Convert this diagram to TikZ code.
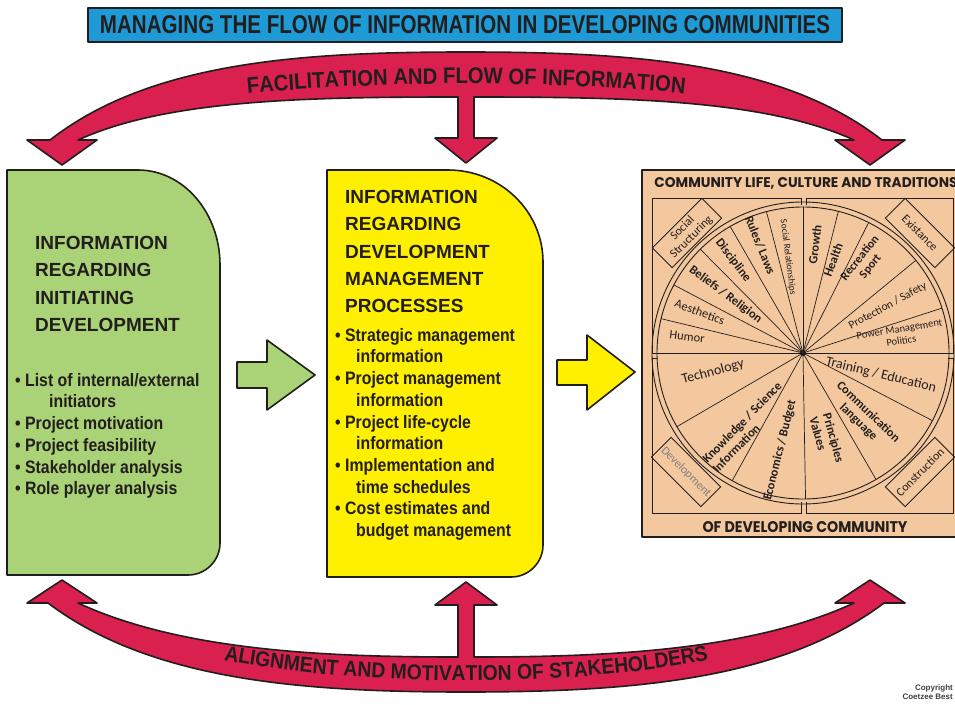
\documentclass[tikz,border=0pt]{standalone}
\usepackage{fontspec}
\setmainfont{Liberation Sans}
\newfontfamily\condfont{Liberation Sans}[FakeStretch=0.88]
\newfontfamily\bandfont{Liberation Sans}[FakeStretch=0.9]
\newfontfamily\wheelfont{Carlito}
\newfontfamily\geofont{Poppins}
\usetikzlibrary{decorations.text}

\definecolor{titleblue}{RGB}{30,155,215}
\definecolor{bandred}{RGB}{218,32,78}
\definecolor{initgreen}{RGB}{170,210,118}
\definecolor{procyellow}{RGB}{255,240,0}
\definecolor{commpeach}{RGB}{244,200,158}
\definecolor{inkdark}{RGB}{35,30,30}

\tikzset{
  outline/.style={draw=inkdark, line width=1.6pt, line join=round},
  headtext/.style={anchor=north west, inner sep=0pt, align=left, text=inkdark,
    font=\fontsize{19}{27.3}\selectfont\bfseries},
  bullettext/.style={anchor=north west, inner sep=0pt, align=left, text=inkdark,
    font=\fontsize{18}{21.7}\selectfont\condfont\bfseries},
  cornerbox/.style={draw=inkdark, line width=0.9pt, minimum width=70pt, minimum height=28pt,
    inner sep=1pt, align=center, text=inkdark, font=\fontsize{12}{12.5}\selectfont\wheelfont},
  sector/.style={inner sep=0pt, align=center, text=inkdark, font=\fontsize{12.5}{14}\selectfont\wheelfont},
  sectorbold/.style={sector, font=\fontsize{12.5}{14}\selectfont\wheelfont\bfseries},
  spoke/.style={draw=inkdark, line width=0.7pt},
  bandtext/.style={decorate, decoration={text along path, text align=center,
    text color=inkdark, text={#1}}}
}

\begin{document}
\begin{tikzpicture}[x=1pt, y=-1pt]
\fill[white] (0,0) rectangle (955,704);
\useasboundingbox (0,0) rectangle (955,704);

\node[outline, fill=titleblue, text=inkdark, minimum width=754pt, minimum height=34pt, inner sep=0pt]
  (title) at (465,25) {\resizebox{730pt}{18pt}{\bfseries MANAGING THE FLOW OF INFORMATION IN DEVELOPING COMMUNITIES}};

\draw[outline, fill=bandred] (50,140) .. controls (150,62) and (300,52) .. (466,52)
  .. controls (632,52) and (782,62) .. (882,140) -- (905,140) -- (870,165) -- (835,140) -- (854,140)
  .. controls (766,100) and (630,97) .. (474,97) -- (474,138) -- (497,138) -- (466,163) -- (435,138) -- (458,138)
  -- (458,97) .. controls (302,97) and (166,100) .. (78,140) -- (97,140) -- (62,165) -- (27,140) -- cycle;
\path[bandtext={|\bandfont\fontsize{22.5}{23}\selectfont\bfseries|FACILITATION AND FLOW OF INFORMATION}]
  (136,110) .. controls (300,75) and (632,75) .. (796,110);

\draw[outline, fill=bandred] (48,603) .. controls (150,680) and (300,692) .. (466,692)
  .. controls (632,692) and (782,680) .. (884,603) -- (905,603) -- (870,580) -- (835,603) -- (854,603)
  .. controls (752,650) and (612,657) .. (474,657) -- (474,605) -- (497,605) -- (466,582) -- (435,605) -- (458,605)
  -- (458,657) .. controls (320,657) and (180,650) .. (78,603) -- (97,603) -- (62,580) -- (27,603) -- cycle;
\path[bandtext={|\bandfont\fontsize{21.5}{22}\selectfont\bfseries|ALIGNMENT AND MOTIVATION OF STAKEHOLDERS}]
  (140,638) .. controls (300,695) and (632,695) .. (792,638);

\draw[outline, fill=initgreen] (7,170) -- (138,170) arc[start angle=-90, end angle=0, x radius=82, y radius=95]
  -- (220,543) arc[start angle=0, end angle=90, radius=32] -- (7,575) -- cycle;
\draw[outline, fill=procyellow] (327,170) -- (448,170) arc[start angle=-90, end angle=0, x radius=95, y radius=92]
  -- (543,545) arc[start angle=0, end angle=90, radius=32] -- (327,577) -- cycle;
\draw[outline, fill=commpeach] (642,170) rectangle (966,537);

\draw[outline, fill=initgreen] (237,362) -- (267,362) -- (267,340) -- (315,375) -- (267,410) -- (267,388) -- (237,388) -- cycle;
\draw[outline, fill=procyellow] (557,360) -- (587,360) -- (587,335) -- (635,372) -- (587,410) -- (587,385) -- (557,385) -- cycle;

\node[headtext] (inithead) at (35,236) {INFORMATION\\REGARDING\\INITIATING\\DEVELOPMENT};
\node[bullettext] (initlist) at (15,373) {\textbullet\ List of internal/external\\
  \hspace*{34pt}initiators\\
  \textbullet\ Project motivation\\
  \textbullet\ Project feasibility\\
  \textbullet\ Stakeholder analysis\\
  \textbullet\ Role player analysis};

\node[headtext] (prochead) at (345,190) {INFORMATION\\REGARDING\\DEVELOPMENT\\MANAGEMENT\\PROCESSES};
\node[bullettext] (proclist) at (335,328) {\textbullet\ Strategic management\\
  \hspace*{21pt}information\\
  \textbullet\ Project management\\
  \hspace*{21pt}information\\
  \textbullet\ Project life-cycle\\
  \hspace*{21pt}information\\
  \textbullet\ Implementation and\\
  \hspace*{21pt}time schedules\\
  \textbullet\ Cost estimates and\\
  \hspace*{21pt}budget management};

\node[text=inkdark, inner sep=0pt] (commtitle) at (806,183)
  {\resizebox{303pt}{10pt}{\geofont\bfseries COMMUNITY LIFE, CULTURE AND TRADITIONS}};
\node[text=inkdark, inner sep=0pt] (commfoot) at (805,527)
  {\resizebox{205pt}{11pt}{\geofont\bfseries OF DEVELOPING COMMUNITY}};

\draw[draw=inkdark, line width=1pt] (801,205) -- (801,198) -- (652,198) -- (652,353) -- (953,353) -- (953,198) -- (806,198) -- (806,205);
\draw[draw=inkdark, line width=1pt] (657,358) -- (652,358) -- (652,513) -- (801,513) -- (801,502);
\draw[draw=inkdark, line width=1pt] (948,358) -- (953,358) -- (953,513) -- (806,513) -- (806,502);

\node[cornerbox, rotate=45] (socstruct) at (687,233) {Social\\Structuring};
\node[cornerbox, rotate=-45] (existbox) at (920,233) {Existance};
\node[cornerbox, rotate=-45, text=gray] (devbox) at (686,472) {Development};
\node[cornerbox, rotate=45] (constbox) at (920,472) {Construction};

\begin{scope}[shift={(803,353)}, yscale=-1]
  \draw[draw=inkdark, line width=0.9pt] (0,0) circle[radius=146] (0,0) circle[radius=151];
  \foreach \a in {17.9,39.4,63.3,76,90,104.5,119.9,134.7,152.2,166.4,210.3,241,271,300,332.4}
    \draw[spoke] (0,0) -- (\a:146);
  \fill[inkdark] (0,0) circle[radius=3];
  \node[sector, rotate=-6.8] (humor) at (172.1:117) {Humor};
  \node[sector, rotate=-20.7] (aesth) at (158.3:111) {Aesthetics};
  \node[sectorbold, rotate=-36.5] (belief) at (143:97) {Beliefs / Religion};
  \node[sectorbold, rotate=-52.7] (discip) at (127:116) {Discipline};
  \node[sectorbold, rotate=-67.8] (rules) at (111.7:116) {Rules/ Laws};
  \node[sector, rotate=-82.75, font=\fontsize{9.5}{9}\selectfont\wheelfont] (socrel) at (98.9:97) {Social Relationships};
  \node[sectorbold, rotate=83] (growth) at (83.7:109) {Growth};
  \node[sectorbold, rotate=69.65] (health) at (72.1:98) {Health};
  \node[sectorbold, rotate=51.35, font=\fontsize{12}{13.5}\selectfont\wheelfont\bfseries] (recreat) at (55.5:110) {Recreation\\Sport};
  \node[sector, rotate=28.65, font=\fontsize{11.5}{11}\selectfont\wheelfont] (protect) at (29:97) {Protection / Safety};
  \node[sector, rotate=8.95, font=\fontsize{10.5}{12}\selectfont\wheelfont] (power) at (10.5:99) {Power Management\\Politics};
  \node[sector, rotate=-13.8, font=\fontsize{14}{13}\selectfont\wheelfont] (training) at (-15.8:81) {Training / Education};
  \node[sectorbold, rotate=-43.8] (communic) at (-46.8:88) {Communication\\language};
  \node[sectorbold, rotate=-74.5, align=left] (princip) at (-74.6:90) {Principles\\Values};
  \node[sectorbold, rotate=76] (econ) at (256.7:100) {Economics / Budget};
  \node[sectorbold, rotate=45.7, align=left] (knowl) at (232.9:93) {Knowledge / Science\\Information};
  \node[sector, rotate=15.2, font=\fontsize{14}{13}\selectfont\wheelfont] (techno) at (191.9:92) {Technology};
\end{scope}

\node[anchor=north east, inner sep=0pt, align=right, text=darkgray,
  font=\fontsize{8}{9}\selectfont\bfseries] (copyr) at (953,684) {Copyright\\Coetzee Best};
\end{tikzpicture}
\end{document}
